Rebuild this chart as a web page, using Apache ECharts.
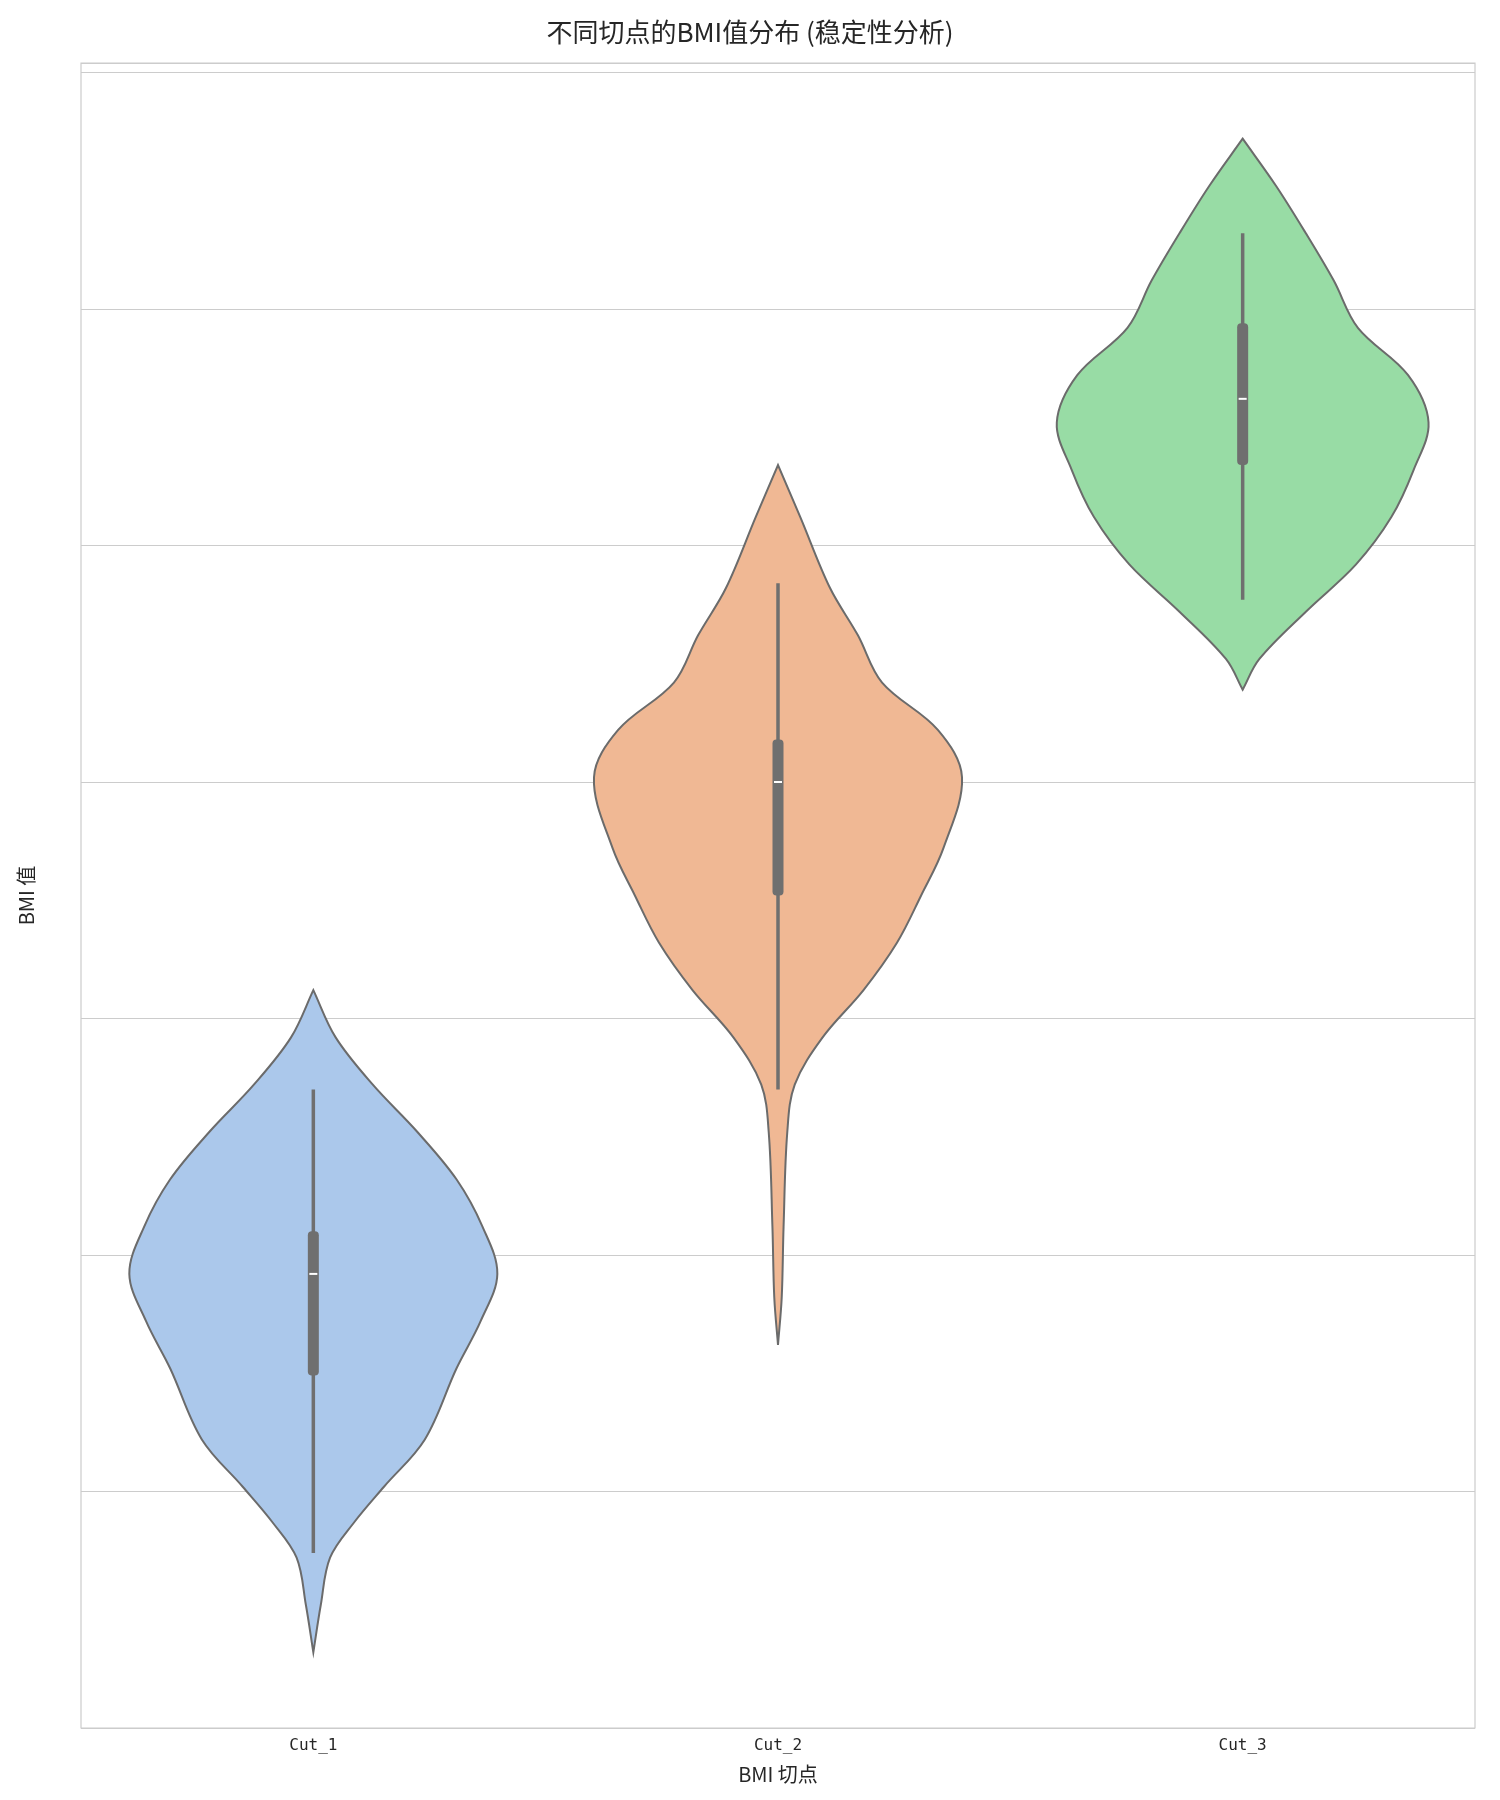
<!DOCTYPE html>
<html>
<head>
<meta charset="UTF-8">
<title>BMI violin</title>
<script src="https://cdn.jsdelivr.net/npm/echarts@6/dist/echarts.min.js"></script>
<style>body{margin:0;background:#fff}#chart{width:1500px;height:1800px}</style>
</head>
<body>
<div id="chart"></div>
<script>
var categories = ['Cut_1', 'Cut_2', 'Cut_3'];
var colors = ['#abc8eb', '#f0b894', '#98dca5'];
// density outline: BMI value and relative half-width (0..1)
var densY = [
  [29.8, 30.0, 30.2, 30.35, 30.5, 30.7, 31.0, 31.2, 31.4, 31.6, 31.8, 32.0, 32.2, 32.4, 32.6],
  [31.1, 31.3, 31.6, 32.0, 32.2, 32.4, 32.6, 32.8, 33.0, 33.2, 33.5, 33.7, 33.9, 34.1, 34.3, 34.6, 34.82],
  [33.87, 34.0, 34.2, 34.4, 34.6, 34.8, 35.0, 35.2, 35.4, 35.6, 35.8, 36.0, 36.2]
];
var densW = [
  [0, 0.04, 0.09, 0.22, 0.38, 0.6, 0.77, 0.9, 0.99, 0.91, 0.77, 0.56, 0.32, 0.12, 0],
  [0, 0.02, 0.03, 0.05, 0.09, 0.24, 0.46, 0.64, 0.77, 0.89, 0.99, 0.86, 0.56, 0.43, 0.28, 0.12, 0],
  [0, 0.09, 0.34, 0.61, 0.8, 0.92, 1.0, 0.89, 0.62, 0.49, 0.34, 0.18, 0]
];
var whiskerLow = [30.22, 32.18, 34.25];
var boxLow = [30.97, 33.0, 34.82];
var medians = [31.4, 33.48, 35.1];
var boxHigh = [31.58, 33.66, 35.42];
var whiskerHigh = [32.18, 34.32, 35.8];

var data = categories.map(function (c, i) {
  return [i, whiskerLow[i], boxLow[i], medians[i], boxHigh[i], whiskerHigh[i]];
});

var chart = echarts.init(document.getElementById('chart'));
chart.setOption({
  animation: false,
  title: {
    text: '不同切点的BMI值分布 (稳定性分析)', left: 'center', top: 14,
    textStyle: {fontFamily: 'Noto Sans CJK SC', fontSize: 26, fontWeight: 'normal', color: '#262626'}
  },
  grid: {left: 81, right: 25, top: 63, bottom: 72, show: true, borderColor: '#cccccc', borderWidth: 1.2},
  xAxis: {
    type: 'category', data: categories,
    name: 'BMI 切点', nameLocation: 'middle', nameGap: 36,
    nameTextStyle: {fontFamily: 'Noto Sans CJK SC', fontSize: 20, color: '#262626'},
    axisLine: {show: false}, axisTick: {show: false},
    axisLabel: {fontFamily: 'DejaVu Sans Mono', fontSize: 16, color: '#262626', margin: 10}
  },
  yAxis: {
    type: 'value', min: 29.48, max: 36.52, interval: 1,
    name: 'BMI 值', nameLocation: 'middle', nameGap: 45,
    nameTextStyle: {fontFamily: 'Noto Sans CJK SC', fontSize: 20, color: '#262626'},
    axisLine: {show: false}, axisTick: {show: false},
    axisLabel: {fontFamily: 'DejaVu Sans Mono', fontSize: 15, color: '#262626', margin: 14,
      formatter: function (v) { return Math.abs(v - Math.round(v)) < 1e-6 ? String(Math.round(v)) : ''; }},
    splitLine: {lineStyle: {color: '#cccccc', width: 1.2}}
  },
  series: [{
    type: 'custom',
    data: data,
    renderItem: function (params, api) {
      var i = api.value(0);
      var center = api.coord([i, medians[i]]);
      var band = api.size([1, 0])[0];
      var half = band * 0.4;
      var left = [], right = [];
      densY[i].forEach(function (y, k) {
        var p = api.coord([i, y]);
        right.push([center[0] + densW[i][k] * half, p[1]]);
        left.unshift([center[0] - densW[i][k] * half, p[1]]);
      });
      var yWl = api.coord([i, api.value(1)])[1];
      var yBl = api.coord([i, api.value(2)])[1];
      var yMd = api.coord([i, api.value(3)])[1];
      var yBh = api.coord([i, api.value(4)])[1];
      var yWh = api.coord([i, api.value(5)])[1];
      var cx = center[0];
      return {
        type: 'group',
        children: [
          {type: 'polygon', shape: {points: right.concat(left), smooth: 0.35},
            style: {fill: colors[i], stroke: '#6b6b6b', lineWidth: 2}},
          {type: 'line', shape: {x1: cx, y1: yWl, x2: cx, y2: yWh},
            style: {stroke: '#6f6f6f', lineWidth: 3.5}},
          {type: 'rect', shape: {x: cx - 5.5, y: yBh, width: 11, height: yBl - yBh, r: 4},
            style: {fill: '#6f6f6f'}},
          {type: 'line', shape: {x1: cx - 4, y1: yMd, x2: cx + 4, y2: yMd},
            style: {stroke: '#ffffff', lineWidth: 2}}
        ]
      };
    }
  }]
});
</script>
</body>
</html>
